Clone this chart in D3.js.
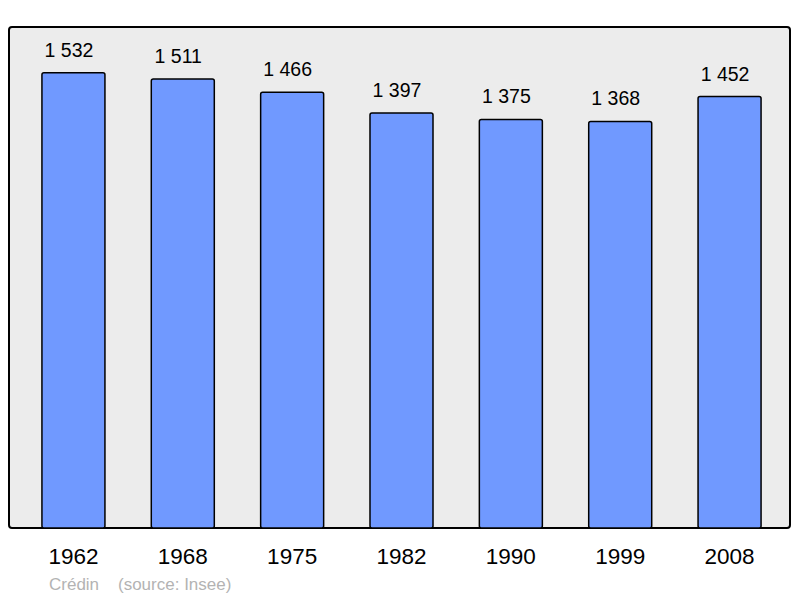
<!DOCTYPE html>
<html><head><meta charset="utf-8">
<script src="https://cdn.jsdelivr.net/npm/d3@7"></script>
<style>body{margin:0;background:#fff}svg{display:block}</style>
</head><body>
<svg id="c" width="800" height="598"></svg>
<script>
const years = ["1962","1968","1975","1982","1990","1999","2008"];
const population = [1532,1511,1466,1397,1375,1368,1452];
const valueLabels = ["1 532","1 511","1 466","1 397","1 375","1 368","1 452"];
const creditText = "Crédin";
const sourceText = "(source: Insee)";

const svg = d3.select("#c");
const frame = {x0:9, x1:790, y0:27, y1:528};

svg.append("rect").attr("x",frame.x0).attr("y",frame.y0)
  .attr("width",frame.x1-frame.x0).attr("height",frame.y1-frame.y0)
  .attr("rx",3).attr("fill","#ececec").attr("stroke","#000").attr("stroke-width",2);

const x = d3.scaleBand().domain(years).range([31,772]).paddingInner(0.4238).paddingOuter(0.1);
const y = d3.scaleLinear().domain([0,1686]).range([528,27]);

svg.selectAll("rect.bar").data(population).join("rect").attr("class","bar")
  .attr("x",(d,i)=>x(years[i])).attr("y",d=>y(d))
  .attr("width",x.bandwidth()).attr("height",d=>y(0)-y(d))
  .attr("rx",2).attr("fill","#7099ff").attr("stroke","#000").attr("stroke-width",1.5);

svg.selectAll("text.val").data(population).join("text").attr("class","val")
  .attr("x",(d,i)=>x(years[i])+x.bandwidth()/2 - 4.5).attr("y",d=>y(d)-16)
  .attr("text-anchor","middle").attr("font-family","Liberation Sans, Arial, sans-serif")
  .attr("font-size",19.5).attr("fill","#000").text((d,i)=>valueLabels[i]);

const ax = svg.append("g").attr("transform",`translate(0,${frame.y1})`)
  .call(d3.axisBottom(x).tickSize(0).tickPadding(20));
ax.select(".domain").remove();
ax.selectAll("text").attr("font-family","Liberation Sans, Arial, sans-serif").attr("font-size",22.5).attr("fill","#000");

svg.append("text").attr("x",49).attr("y",590).attr("font-family","Liberation Sans, Arial, sans-serif")
  .attr("font-size",17).attr("fill","#b3b3b3").text(creditText);
svg.append("text").attr("x",118).attr("y",590).attr("font-family","Liberation Sans, Arial, sans-serif")
  .attr("font-size",17).attr("fill","#b3b3b3").text(sourceText);
</script>
</body></html>
